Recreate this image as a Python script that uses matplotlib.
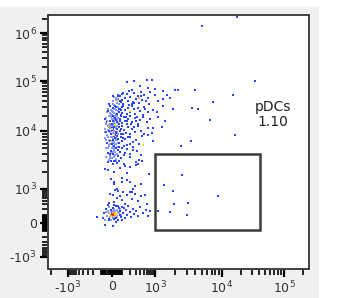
"""
pDC gate on a biexponential flow plot (sample re-drawn from a FlowJo export).
"""
import numpy as np
import matplotlib
matplotlib.use('Agg')
import matplotlib.pyplot as plt
from matplotlib.patches import Rectangle

# ---- events, in raw fluorescence units -------------------------------------
# dense core of the pDC-negative population (pale blue dots)
pale_x = [20, 40, 56, 46, 9,
          -36, 0, 18, 36, 56, 20, -10, 10,
          -56, -30, -8, 5, 18, 30, 42, 56, -15, 22, 48,
          -65, -40, -18, -3, 10, 20, 32, 44, 58, -22, 28, -6,
          -60, -32, -10, 6, 20, 35, 50, -15, 24,
          -55, -25, -2, 15, 30, 46, 5,
          -50, -20, 2, 18, 34, -28,
          -48, -26, -12, 3, 14, 26, 38, 52, -42, -4, 16, 32, 44, -35,
          7, -14, 26, 54, -58, 0, 12, 60, -30, 40, 28, -20, 70, 33,
          -44, -16, 4, 24, 44, -52, -24, 11, 36, -8, 18, 50, -33, 2, 29, -62, -18, 14, 40, 8,
          -60, -38, -15, -5, 3, 9, 15, 22, 28, 36, 45, 56, -25, 12, 50, -45,
          -30, -8, 8, 20, 30, 42, 65, 75, -52, 85]
pale_y = [4.8e4, 4.6e4, 4.4e4, 3.6e4, 3.9e4,
          2.8e4, 2.5e4, 2.3e4, 2.6e4, 3.0e4, 2.7e4, 2.2e4, 2.4e4,
          1.8e4, 2.0e4, 1.9e4, 1.75e4, 1.55e4, 1.4e4, 1.95e4, 1.8e4, 1.35e4, 1.45e4, 1.7e4,
          1.1e4, 1.25e4, 1.15e4, 1.3e4, 9.2e3, 1.0e4, 1.15e4, 1.28e4, 9.0e3, 9.5e3, 1.25e4, 1.02e4,
          7.5e3, 8.0e3, 7.8e3, 7.2e3, 6.5e3, 5.9e3, 6.9e3, 5.9e3, 6.0e3,
          5.0e3, 5.5e3, 5.2e3, 4.8e3, 4.3e3, 4.0e3, 5.6e3,
          3.5e3, 3.7e3, 3.4e3, 3.6e3, 3.3e3, 3.2e3,
          2.4e4, 1.3e4, 2.6e4, 2.1e4, 3.3e4, 2.0e4, 1.2e4, 2.5e4, 8.5e3, 6.8e3, 5.2e3, 7.0e3, 9.6e3, 5.2e3,
          4.4e3, 3.4e3, 3.9e3, 6.3e3, 1.35e4, 1.7e4, 1.3e4, 1.45e4, 7.0e3, 3.1e3, 1.65e4, 2.0e4, 3.4e4, 4.1e4,
          1.6e4, 2.3e4, 1.2e4, 9.0e3, 1.6e4, 7.0e3, 5.8e3, 6.2e3, 7.5e3, 4.2e3, 3.8e3, 5.4e3, 1.05e4, 8.0e3,
          2.8e4, 9.8e3, 1.25e4, 1.9e4, 2.2e4, 3.5e4,
          40, 150, 70, 40, 90, 60, 100, 200, 80, 110, 170, 140, 240, 160, 90, 90,
          130, 160, 110, 60, 150, 75, 120, 190, 140, 95]

# everything else at low density (deep blue dots)
blue_x = [-18, 9, 27, 46, 40,
          -45, -20, 0, 12, 25, 36, 50, 8,
          -50, -28, -10, 4, 15, 26, 38, 50, 2, 12, 36,
          -45, -20, 0, 14, 28, 42, 60, 10,
          -38, -12, 8, 22, 38, 56, -20,
          -35, -8, 10, 26, 44, 56, 15,
          155, 264, 620, 840, 655, 400, 2000,
          230, 180, 110, 96, 155, 264, 430, 520, 60, 340, 720, 1700,
          75, 96, 130, 168, 200, 250, 300, 380, 460, 560, 700, 110, 85, 230, 640, 1100, 1300,
          65, 75, 96, 110, 130, 150, 168, 197, 228, 260, 283, 345, 395, 477, 540, 655, 880, 85, 62,
          65, 75, 85, 96, 115, 130, 150, 168, 197, 228, 283, 345, 395, 477, 600, 735,
          66, 75, 88, 100, 120, 140, 168, 197, 228, 283, 345, 420, 520, 640,
          70, 85, 100, 130, 160, 197, 240, 300, 370, 460,
          68, 80, 96, 120, 150, 197, 250, 320, 420,
          70, 90, 120, 197, 300, 380, 450,
          -65, -36, 130, 197, 300, 345, 700, 20,
          18, 96, 155, 100, 197, 283, 420, 18, 46, 250,
          30, 56, 110, 197, -20, 8, 75, 150, 283, 420, 540, 45, 96, 228, 345, 20, 130, -30, 600,
          5, -25, -60, 90, 160, 110, 240, 180, 330, 500, 260, 420, 80, 150, -10, 230,
          72, 88, 105, 140, 175, 210, 265, 310, 120, 95, 58, -38, 135, 190, 78,
          -85, -70, -50, -30, -20, -10, 0, 6, 18, 25, 32, 40, 60, 66, 72, 80, 90, 100, 110,
          125, 140, 155, 170, 190, 210, 240, 270, 300, 340, 400, 480, 560, 650, 750,
          -155, -40, 15, 60, -65, 10, 40, 50, 120, -25, 95,
          1000, 1300, 1500, 1000, 1300, 1070, 1100, 880, 840, 655, 880,
          1.74e4, 5.0e3, 3.4e4, 2.2e3, 3.95e3, 1.5e4, 7.3e3, 3.6e3, 4.4e3, 1.86e3,
          6.6e3, 1.62e4, 3.45e3, 2.45e3, 1.27e3, 1.41e3,
          2.5e3, 3.1e3, 3.0e3, 8.7e3, 1.36e3, 1.86e3, 1.92e3, 1.11e3, 1.67e3]
blue_y = [3.1e4, 2.9e4, 3.2e4, 2.2e4, 3.0e4,
          1.5e4, 1.6e4, 1.4e4, 2.0e4, 1.85e4, 1.65e4, 1.5e4, 1.6e4,
          9.5e3, 1.0e4, 8.8e3, 1.05e4, 1.2e4, 8.7e3, 9.8e3, 1.08e4, 1.16e4, 1.1e4, 9.3e3,
          6.2e3, 6.8e3, 6.0e3, 8.3e3, 7.6e3, 8.1e3, 7.4e3, 7.0e3,
          4.2e3, 4.6e3, 4.0e3, 5.5e3, 5.0e3, 4.7e3, 4.0e3,
          2.9e3, 3.1e3, 2.7e3, 3.0e3, 2.8e3, 3.7e3, 3.0e3,
          9.5e4, 1.0e5, 1.05e5, 1.07e5, 7.4e4, 8.0e4, 6.6e4,
          6.6e4, 6.2e4, 5.8e4, 5.5e4, 5.4e4, 5.7e4, 6.0e4, 5.2e4, 5.3e4, 5.0e4, 6.0e4, 4.5e4,
          4.9e4, 4.2e4, 4.5e4, 4.0e4, 4.7e4, 3.8e4, 4.3e4, 3.6e4, 4.1e4, 3.9e4, 3.5e4, 3.4e4, 3.8e4, 3.5e4, 4.6e4, 3.9e4, 3.1e4,
          2.4e4, 2.7e4, 2.3e4, 3.1e4, 2.6e4, 2.2e4, 2.9e4, 2.4e4, 3.2e4, 2.7e4, 2.2e4, 2.9e4, 2.5e4, 2.1e4, 2.8e4, 2.4e4, 2.6e4, 2.1e4, 2.8e4,
          1.35e4, 1.7e4, 2.0e4, 1.45e4, 1.9e4, 1.6e4, 1.35e4, 1.75e4, 2.0e4, 1.5e4, 1.8e4, 1.4e4, 1.65e4, 1.9e4, 1.5e4, 1.7e4,
          1.2e4, 1.0e4, 8.8e3, 1.25e4, 1.05e4, 9.4e3, 1.18e4, 8.9e3, 1.1e4, 9.7e3, 1.25e4, 1.0e4, 9.0e3, 1.15e4,
          6.1e3, 8.0e3, 6.6e3, 7.3e3, 5.8e3, 7.9e3, 6.4e3, 7.1e3, 6.0e3, 8.2e3,
          5.4e3, 4.4e3, 5.1e3, 3.9e3, 4.9e3, 4.1e3, 5.3e3, 4.5e3, 3.9e3,
          3.0e3, 3.4e3, 2.7e3, 3.5e3, 2.9e3, 3.2e3, 3.0e3,
          2.2e3, 2.1e3, 2.5e3, 2.4e3, 2.6e3, 2.7e3, 1.8e3, 2.0e3,
          1.3e3, 1.55e3, 1.45e3, 1.3e3, 1.3e3, 1.15e3, 1.2e3, 1.2e3, 1.0e3, 1.0e3,
          900, 850, 780, 820, 700, 650, 600, 620, 700, 560, 650, 480, 420, 450, 380, 350, 300, 320, 300,
          5.0e4, 3.5e4, 1.7e4, 1.1e4, 1.6e4, 7.5e3, 4.8e3, 3.3e4, 1.9e4, 3.0e4, 1.2e4, 5.0e4, 2.3e3, 1.9e3, 1.5e3, 770,
          1.55e4, 2.6e4, 9.0e3, 1.9e4, 8.0e3, 1.4e4, 3.6e4, 1.6e4, 5.6e3, 3.0e4, 4.9e4, 2.5e4, 4.2e3, 6.0e3, 3.9e4,
          60, 120, 200, 50, 110, 180, 130, 220, 45, 130, 250, 60, 40, 210, 100, 160, 70, 230, 120,
          60, 180, 100, 260, 140, 70, 200, 110, 160, 90, 230, 130, 180, 80, 150,
          70, 270, 280, 260, -22, -40, 10, 260, 210, 30, 35,
          7e4, 6.3e4, 5.25e4, 5.25e4, 4.4e4, 2.4e4, 1.9e4, 1.15e4, 9.3e3, 8.5e3, 6.7e3,
          2.2e6, 1.4e6, 1.0e5, 6.6e4, 6.6e4, 5.25e4, 3.8e4, 2.9e4, 2.8e4, 2.8e4,
          1.66e4, 8.5e3, 6.7e3, 5.5e3, 1.2e4, 1.55e4,
          1.74e3, 330, 98, 560, 1.17e3, 850, 300, 155, 140]

# hot spots of the density colouring
yellow_x = [-20, 5, 15, 25, 35, 40, -5, 45, -36, 0, 20, -10, 30, 200, 477, 60]
yellow_y = [115, 130, 85, 105, 125, 95, 80, 110, 1.5e4, 1.1e4, 8.5e3, 6.5e3, 1.3e4, 2.5e4, 5.7e3, 4.0e4]
orange_x = [-10, 20, 30, 370, -30]
orange_y = [95, 120, 90, 4.5e4, 1.2e4]
red_x = [0, 10]
red_y = [110, 100]

# pDC gate (x: lower/upper, y: lower/upper) and its frequency
gate_x = [1000, 41000]
gate_y = [-85, 4000]
gate_name = 'pDCs'
gate_pct = 1.10

x_major = [-1e3, 0, 1e3, 1e4, 1e5]
x_major_labels = ['-$10^{3}$', '0', '$10^{3}$', '$10^{4}$', '$10^{5}$']
y_major = [-1e3, 0, 1e3, 1e4, 1e5, 1e6]
y_major_labels = ['-$10^{3}$', '0', '$10^{3}$', '$10^{4}$', '$10^{5}$', '$10^{6}$']

# ---- biexponential-ish display scale ---------------------------------------
C = 150.0
ANCHORS = np.arcsinh(np.array([-1e4, -1e3, 0, 1e3, 1e4, 1e5, 1e6, 1e7]) / C)
X_POS = np.array([-100, -44, 0, 43, 110, 172, 234, 296], dtype=float)
Y_POS = np.array([-90, -34, 0, 34, 92, 142, 190, 238], dtype=float)


def make_scale(pos):
    def fwd(v):
        return np.interp(np.arcsinh(np.asarray(v, dtype=float) / C), ANCHORS, pos)

    def inv(p):
        return C * np.sinh(np.interp(np.asarray(p, dtype=float), pos, ANCHORS))
    return fwd, inv


def minor_ticks(top):
    out = []
    for k in (10, 100):
        out += [-m * k for m in range(1, 10)] + [m * k for m in range(1, 10)]
    for dec in (1e3, 1e4, 1e5, 1e6):
        out += [m * dec for m in range(2, 10) if m * dec <= top]
    out += [-m * 1e3 for m in range(2, 4)]
    return out


fig = plt.figure(figsize=(3.62, 2.98), dpi=100, facecolor='white')
fig.add_artist(Rectangle((0, 0), 319 / 362, 291 / 298, transform=fig.transFigure,
                         facecolor='#f0f0f0', edgecolor='none', zorder=0))
ax = fig.add_axes([48 / 362, 1 - 269 / 298, 261 / 362, 254 / 298])

fx, ix = make_scale(X_POS)
fy, iy = make_scale(Y_POS)
ax.set_xscale('function', functions=(fx, ix))
ax.set_yscale('function', functions=(fy, iy))
x_lo, x_hi = float(ix(-64)), float(ix(197))
y_lo, y_hi = float(iy(-46)), float(iy(208))
ax.set_xlim(x_lo, x_hi)
ax.set_ylim(y_lo, y_hi)

dot = dict(marker='s', s=1.6, linewidths=0)
ax.scatter(pale_x, pale_y, color='#8799ff', **dot)
ax.scatter(blue_x, blue_y, color='#2846ff', **dot)
ax.scatter(yellow_x, yellow_y, color='#f2e23a', **dot)
ax.scatter(orange_x, orange_y, color='#ff9a2e', **dot)
ax.scatter(red_x, red_y, color='#e8331c', **dot)

ax.add_patch(Rectangle((gate_x[0], gate_y[0]), gate_x[1] - gate_x[0], gate_y[1] - gate_y[0],
                       fill=False, edgecolor='#3c3c3c', linewidth=1.8))
ax.text(0.862, 0.61, f'{gate_name}\n{gate_pct:.2f}', transform=ax.transAxes,
        ha='center', va='center', fontsize=10, color='#222222', linespacing=1.1)

ax.set_xticks(x_major)
ax.set_xticklabels(x_major_labels)
ax.set_yticks(y_major)
ax.set_yticklabels(y_major_labels)
ax.set_xticks([t for t in minor_ticks(2e5) if x_lo < t < x_hi], minor=True)
ax.set_yticks([t for t in minor_ticks(2e6) if y_lo < t < y_hi], minor=True)
ax.tick_params(which='major', length=5, width=1.6, color='black', labelsize=9,
               labelcolor='#333333', pad=2)
ax.tick_params(which='minor', length=3.5, width=1.2, color='black')

for side in ('top', 'right', 'left', 'bottom'):
    ax.spines[side].set_visible(False)
ax.spines['left'].set_position(('outward', 1))
ax.spines['bottom'].set_position(('outward', 1))
ax.patch.set_edgecolor('#222222')
ax.patch.set_linewidth(1.2)

fig.savefig('out.png', dpi=100)
